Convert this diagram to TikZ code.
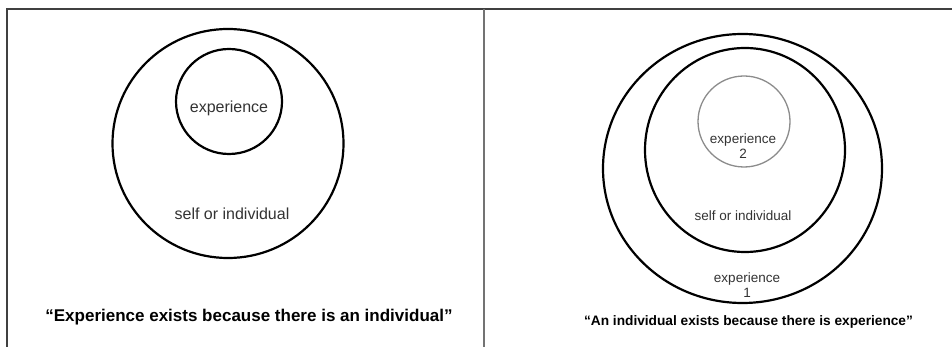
\documentclass[tikz,border=0pt]{standalone}
\usepackage{fontspec}
\setmainfont{Liberation Sans}
\usetikzlibrary{shapes.geometric}
\begin{document}
\begin{tikzpicture}[x=1pt,y=-1pt,
  ring/.style={draw=black, line width=2.2pt, ellipse, inner sep=0pt},
  grayring/.style={draw=black!45, line width=1.3pt, ellipse, inner sep=0pt},
  lbl/.style={text=black!80, font=\fontsize{16}{17}\selectfont, inner sep=0pt},
  slbl/.style={text=black!80, font=\fontsize{13.5}{15}\selectfont, inner sep=0pt, align=center},
  quote/.style={text=black, font=\bfseries\fontsize{17}{19}\selectfont, inner sep=0pt},
  squote/.style={text=black, font=\bfseries\fontsize{13.7}{15}\selectfont, inner sep=0pt},
  frame/.style={draw=black!75, line width=1.2pt}]
\useasboundingbox[fill=white] (0,0) rectangle (952,347);
% frame
\coordinate (tl) at (7,9);
\coordinate (tr) at (952,9);
\coordinate (bl) at (7,347);
\coordinate (dt) at (484,9);
\coordinate (db) at (484,347);
\draw[frame] (bl) -- (tl) -- (tr);
\draw[draw=black!55, line width=1.4pt] (dt) -- (db);
% left panel
\node[ring, minimum width=231pt, minimum height=229pt] (louter) at (228,143.5) {};
\node[ring, minimum width=106pt, minimum height=105pt] (linner) at (229,101.5) {};
\node[lbl] (lexp) at (229,108) {experience};
\node[lbl] (lself) at (232,214) {self or individual};
\node[quote] (lq) at (249,317) {“Experience exists because there is an individual”};
% right panel
\node[ring, minimum width=279pt, minimum height=269pt] (router) at (742.5,168.5) {};
\node[ring, minimum width=200pt, minimum height=204pt] (rmid) at (745,150) {};
\node[grayring, minimum width=92pt, minimum height=91pt] (rin) at (744,121.5) {};
\node[slbl] (rexp2) at (743,146.5) {experience\\2};
\node[slbl] (rself) at (743,216) {self or individual};
\node[slbl] (rexp1) at (747,285) {experience\\1};
\node[squote] (rq) at (748.5,322) {“An individual exists because there is experience”};
\end{tikzpicture}
\end{document}
